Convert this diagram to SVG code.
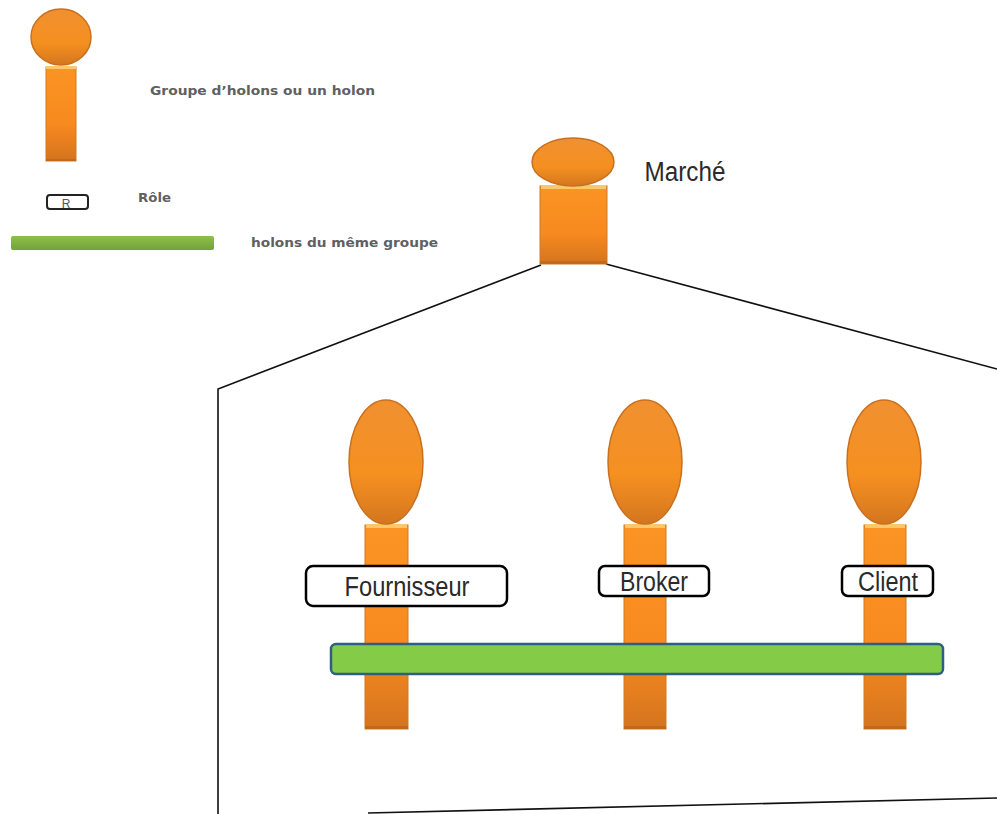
<svg xmlns="http://www.w3.org/2000/svg" width="997" height="814" viewBox="0 0 997 814">
<style>
.head{fill:url(#og);stroke:#c9701f;stroke-width:1.5}
.body{fill:url(#ob);stroke:#d07a22;stroke-width:1}
.shade{fill:#a85a1a;opacity:.45}
.cap{fill:#fbc76a}
.role{fill:#fff;stroke:#000;stroke-width:2.5}
.lbl{font-family:"Liberation Sans",sans-serif;font-size:27px;fill:#2a2a2a;text-anchor:middle}
.leg{font-family:"DejaVu Sans",sans-serif;font-size:11.5px;font-weight:bold;fill:#606060}
.conn{fill:none;stroke:#111;stroke-width:1.6}
</style>
<defs>
<linearGradient id="og" x1="0" y1="0" x2="0" y2="1"><stop offset="0" stop-color="#f09030"/><stop offset=".6" stop-color="#f59020"/><stop offset="1" stop-color="#d4761f"/></linearGradient>
<linearGradient id="ob" x1="0" y1="0" x2="0" y2="1"><stop offset="0" stop-color="#fb9424"/><stop offset=".6" stop-color="#f88a1f"/><stop offset="1" stop-color="#d4741f"/></linearGradient>
<linearGradient id="gg" x1="0" y1="0" x2="0" y2="1"><stop offset="0" stop-color="#8cc04a"/><stop offset="1" stop-color="#74a23a"/></linearGradient>
</defs>
<g id="connectors">
<path class="conn" d="M541 265L218 389V814"/>
<path class="conn" d="M606 264L997 369"/>
<path class="conn" d="M368 813L997 798"/>
</g>
<g id="legend-holon">
<rect class="body" x="46" y="67" width="30" height="94"/>
<rect class="cap" x="46" y="66" width="30" height="3"/>
<rect class="shade" x="46" y="159" width="30" height="2"/>
<ellipse class="head" cx="61" cy="37" rx="30" ry="28"/>
<text class="leg" x="150" y="95" textLength="225" lengthAdjust="spacingAndGlyphs">Groupe d’holons ou un holon</text>
</g>
<g id="legend-role">
<rect x="47" y="195" width="41" height="14" rx="3" fill="#fff" stroke="#222" stroke-width="2"/>
<text x="66" y="208" font-family="Liberation Sans,sans-serif" font-size="12" fill="#555" text-anchor="middle">R</text>
<text class="leg" x="138" y="202" textLength="33" lengthAdjust="spacingAndGlyphs">Rôle</text>
</g>
<g id="legend-group">
<rect x="11" y="236" width="203" height="14" rx="2" fill="url(#gg)"/>
<text class="leg" x="251" y="247" textLength="187" lengthAdjust="spacingAndGlyphs">holons du même groupe</text>
</g>
<g id="marche">
<rect class="body" x="540" y="186" width="67" height="78"/>
<rect class="cap" x="541" y="185" width="65" height="4"/>
<rect class="shade" x="540" y="261" width="67" height="3"/>
<ellipse class="head" cx="573" cy="162" rx="41" ry="24"/>
<text class="lbl" x="685" y="181" textLength="81" lengthAdjust="spacingAndGlyphs">Marché</text>
</g>
<g id="fournisseur">
<rect class="body" x="365" y="525" width="43" height="204"/>
<rect class="cap" x="366" y="524" width="41" height="4"/>
<rect class="shade" x="365" y="726" width="43" height="3"/>
<ellipse class="head" cx="386" cy="462" rx="37" ry="62"/>
</g>
<g id="broker">
<rect class="body" x="624" y="525" width="42" height="204"/>
<rect class="cap" x="625" y="524" width="40" height="4"/>
<rect class="shade" x="624" y="726" width="42" height="3"/>
<ellipse class="head" cx="645" cy="462" rx="37" ry="62"/>
</g>
<g id="client">
<rect class="body" x="864" y="525" width="42" height="204"/>
<rect class="cap" x="865" y="524" width="40" height="4"/>
<rect class="shade" x="864" y="726" width="42" height="3"/>
<ellipse class="head" cx="884" cy="462" rx="37" ry="62"/>
</g>
<g id="role-fournisseur">
<rect class="role" x="306" y="566" width="201" height="40" rx="7"/>
<text class="lbl" x="407" y="596" textLength="125" lengthAdjust="spacingAndGlyphs">Fournisseur</text>
</g>
<g id="role-broker">
<rect class="role" x="599" y="566" width="110" height="30" rx="6"/>
<text class="lbl" x="654" y="591" textLength="68" lengthAdjust="spacingAndGlyphs">Broker</text>
</g>
<g id="role-client">
<rect class="role" x="842" y="566" width="91" height="30" rx="6"/>
<text class="lbl" x="888" y="591" textLength="60" lengthAdjust="spacingAndGlyphs">Client</text>
</g>
<g id="bar-groupe">
<rect x="331" y="644" width="612" height="30" rx="5" fill="#84cb47" stroke="#2f5f80" stroke-width="2.5"/>
</g>
</svg>
